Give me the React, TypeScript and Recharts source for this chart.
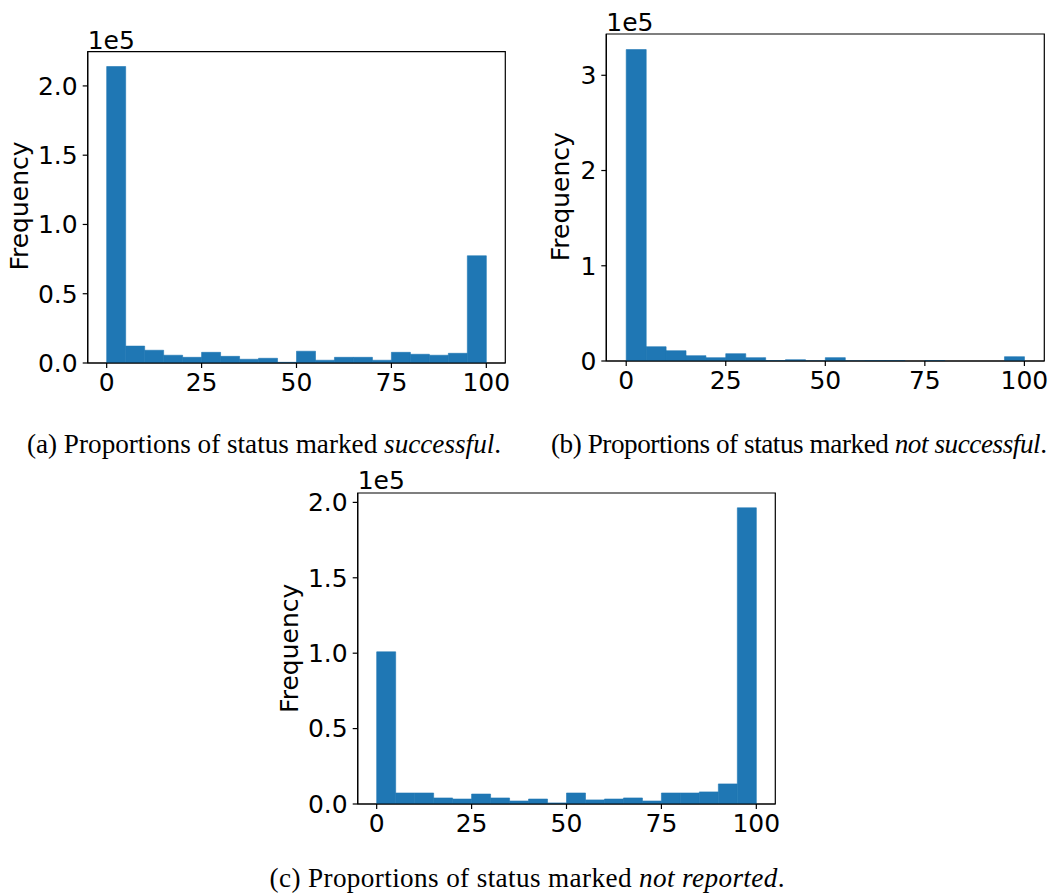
import React from 'react';
import { ComposedChart, Bar, XAxis, YAxis, ReferenceArea } from 'recharts';

// Bin centres (bins of width 5 from 0 to 100)
const binCentres = [2.5, 7.5, 12.5, 17.5, 22.5, 27.5, 32.5, 37.5, 42.5, 47.5, 52.5, 57.5, 62.5, 67.5, 72.5, 77.5, 82.5, 87.5, 92.5, 97.5];

const successful = [214000, 12200, 9200, 5600, 4100, 7700, 4800, 2700, 3400, 500, 8500, 2000, 4100, 4100, 2000, 7700, 6300, 5600, 7000, 77400];
const notSuccessful = [327000, 15000, 10800, 5600, 3500, 7700, 3500, 500, 1400, 100, 3500, 100, 500, 500, 0, 500, 0, 0, 0, 4500];
const notReported = [100900, 7300, 7300, 4000, 3300, 6600, 4000, 2000, 3300, 700, 7300, 2700, 3300, 4000, 2000, 7300, 7300, 8000, 13300, 196400];

const xTicks = [0, 25, 50, 75, 100];
const yTicksA = [0, 50000, 100000, 150000, 200000];
const yTicksB = [0, 100000, 200000, 300000];
const yTicksC = [0, 50000, 100000, 150000, 200000];

const captionA = 'successful';
const captionB = 'not successful';
const captionC = 'not reported';

const BAR = '#1f77b4';
const SANS = 'DejaVu Sans';
const SERIF = '"Liberation Serif", "Times New Roman", serif';

const toRows = (vals: number[]) => binCentres.map((c, i) => ({ x: c, v: vals[i] }));

type HistProps = {
  vals: number[];
  yTicks: number[];
  fmt: (v: number) => string;
  width: number;
  height: number;
  margin: { top: number; right: number; bottom: number; left: number };
  yWidth: number;
  xHeight: number;
};

function Hist({ vals, yTicks, fmt, width, height, margin, yWidth, xHeight }: HistProps) {
  const data = toRows(vals);
  const ymax = Math.max(...vals) * 1.05;
  const tickStyle = { fontFamily: SANS, fontSize: 25, fill: '#000' };
  return (
    <ComposedChart width={width} height={height} data={data} margin={margin} barCategoryGap={0} barGap={0}>
      <XAxis
        dataKey="x"
        type="number"
        domain={[-5, 105]}
        ticks={xTicks}
        allowDataOverflow
        tick={tickStyle}
        tickSize={5}
        tickMargin={5}
        height={xHeight}
        axisLine={{ stroke: '#000', strokeWidth: 1.2 }}
        tickLine={{ stroke: '#000', strokeWidth: 1.2 }}
      />
      <YAxis
        type="number"
        domain={[0, ymax]}
        ticks={yTicks}
        allowDataOverflow
        tickFormatter={fmt}
        tick={tickStyle}
        tickSize={5}
        tickMargin={5}
        width={yWidth}
        axisLine={{ stroke: '#000', strokeWidth: 1.2 }}
        tickLine={{ stroke: '#000', strokeWidth: 1.2 }}
      />
      <Bar dataKey="v" fill={BAR} stroke={BAR} strokeWidth={0.6} isAnimationActive={false} />
      <ReferenceArea x1={-5} x2={105} y1={0} y2={ymax} fill="none" stroke="#000" strokeWidth={1.2} ifOverflow="visible" />
    </ComposedChart>
  );
}

const fmt1 = (v: number) => (v / 1e5).toFixed(1);
const fmt0 = (v: number) => (v / 1e5).toFixed(0);

export default function App() {
  return (
    <div style={{ position: 'absolute', left: 0, top: 0, width: 1053, height: 893, background: '#fff', overflow: 'hidden' }}>
      <div style={{ position: 'absolute', left: 0, top: 0 }}>
        <Hist vals={successful} yTicks={yTicksA} fmt={fmt1} width={530} height={400}
          margin={{ top: 51.7, right: 24.7, bottom: 0, left: 0 }} yWidth={87.7} xHeight={37} />
      </div>
      <div style={{ position: 'absolute', left: 530, top: 0 }}>
        <Hist vals={notSuccessful} yTicks={yTicksB} fmt={fmt0} width={523} height={400}
          margin={{ top: 34, right: 8.7, bottom: 0, left: 0 }} yWidth={76.3} xHeight={39} />
      </div>
      <div style={{ position: 'absolute', left: 270, top: 460 }}>
        <Hist vals={notReported} yTicks={yTicksC} fmt={fmt1} width={530} height={380}
          margin={{ top: 33, right: 24.7, bottom: 0, left: 0 }} yWidth={87.7} xHeight={36} />
      </div>
      <svg width={1053} height={893} style={{ position: 'absolute', left: 0, top: 0, pointerEvents: 'none' }}>
        <g fontFamily={SANS} fontSize={25} fill="#000">
          <text x={87.7} y={49}>1e5</text>
          <text x={606.3} y={30.5}>1e5</text>
          <text x={357.7} y={489}>1e5</text>
          <text transform="translate(28.3,206) rotate(-90)" textAnchor="middle">Frequency</text>
          <text transform="translate(569.3,196.7) rotate(-90)" textAnchor="middle">Frequency</text>
          <text transform="translate(298.3,648.3) rotate(-90)" textAnchor="middle">Frequency</text>
        </g>
        <g fontFamily={SERIF} fontSize={27.2} fill="#000">
          <text x={264} y={453} textAnchor="middle">(a) Proportions of status marked <tspan fontStyle="italic">{captionA}</tspan>.</text>
          <text x={799} y={453} textAnchor="middle" textLength={496} lengthAdjust="spacing">(b) Proportions of status marked <tspan fontStyle="italic">{captionB}</tspan>.</text>
          <text x={527} y={886.5} textAnchor="middle" textLength={515} lengthAdjust="spacing">(c) Proportions of status marked <tspan fontStyle="italic">{captionC}</tspan>.</text>
        </g>
      </svg>
    </div>
  );
}
